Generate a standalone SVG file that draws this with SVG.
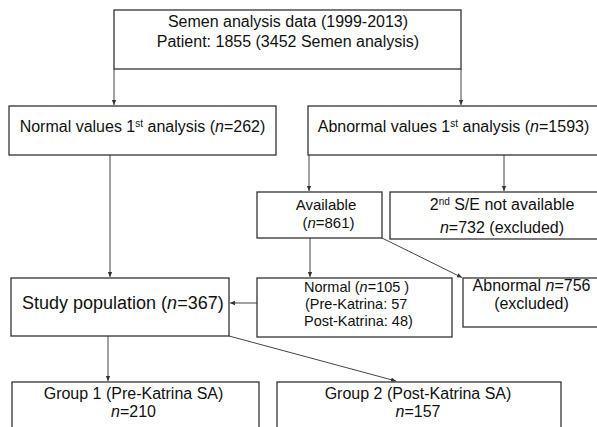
<svg xmlns="http://www.w3.org/2000/svg" width="597" height="427" viewBox="0 0 597 427">
<style>
.box{fill:#fff;stroke:#333;stroke-width:1.3}
.t{font-family:"Liberation Sans",Arial,sans-serif;font-size:16px;fill:#111}
.s{font-size:15px}
.xs{font-size:14.5px}
.big{font-size:18px}
.c{text-anchor:middle}
.sup{font-size:10px}
.ln{stroke:#444;stroke-width:1;fill:none;marker-end:url(#ah)}
</style>
<defs>
<marker id="ah" markerWidth="6" markerHeight="6" refX="5" refY="3" orient="auto" markerUnits="userSpaceOnUse">
<path d="M0,0.8 L5,3 L0,5.2 Z" fill="#333"/>
</marker>
</defs>
<rect width="597" height="427" fill="#fff"/>
<g id="connectors">
<line class="ln" x1="114" y1="69" x2="114" y2="105"/>
<line class="ln" x1="461" y1="69" x2="461" y2="105"/>
<line class="ln" x1="110" y1="155" x2="110" y2="277"/>
<line class="ln" x1="309" y1="155" x2="309" y2="191"/>
<line class="ln" x1="504" y1="155" x2="504" y2="191"/>
<line class="ln" x1="310" y1="238" x2="310" y2="277"/>
<line class="ln" x1="382" y1="238" x2="462" y2="277.5"/>
<line class="ln" x1="257" y1="303" x2="230" y2="303"/>
<line class="ln" x1="108" y1="336" x2="108" y2="381"/>
<line class="ln" x1="229" y1="336" x2="396" y2="381"/>
</g>
<g id="top">
<rect class="box" x="114" y="10" width="347" height="59"/>
<text class="t c" x="288" y="27">Semen analysis data (1999-2013)</text>
<text class="t c" x="288" y="47">Patient: 1855 (3452 Semen analysis)</text>
</g>
<g id="normalvals">
<rect class="box" x="9" y="106" width="267" height="49"/>
<text class="t c" x="142.5" y="132">Normal values 1<tspan class="sup" dy="-5">st</tspan><tspan dy="5"> analysis (</tspan><tspan font-style="italic">n</tspan>=262)</text>
</g>
<g id="abnvals">
<rect class="box" x="308" y="106" width="300" height="49"/>
<text class="t c" x="453.5" y="132">Abnormal values 1<tspan class="sup" dy="-5">st</tspan><tspan dy="5"> analysis (</tspan><tspan font-style="italic">n</tspan>=1593)</text>
</g>
<g id="available">
<rect class="box" x="257" y="192" width="125" height="46"/>
<text class="t s c" x="326" y="210">Available</text>
<text class="t s c" x="328.5" y="227.5">(<tspan font-style="italic">n</tspan>=861)</text>
</g>
<g id="notavail">
<rect class="box" x="390" y="192" width="220" height="47"/>
<text class="t c" x="502" y="210">2<tspan class="sup" dy="-5">nd</tspan><tspan dy="5"> S/E not available</tspan></text>
<text class="t c" x="502" y="233"><tspan font-style="italic">n</tspan>=732 (excluded)</text>
</g>
<g id="normal105">
<rect class="box" x="257" y="278" width="195" height="59"/>
<text class="t xs" x="304" y="292">Normal (<tspan font-style="italic">n</tspan>=105 )</text>
<text class="t xs" x="305" y="309">(Pre-Katrina: 57</text>
<text class="t xs" x="304" y="326">Post-Katrina: 48)</text>
</g>
<g id="abn756">
<rect class="box" x="463" y="278" width="150" height="49"/>
<text class="t c" x="531.5" y="291">Abnormal <tspan font-style="italic">n</tspan>=756</text>
<text class="t c" x="531.5" y="309">(excluded)</text>
</g>
<g id="study">
<rect class="box" x="11" y="278" width="218" height="58"/>
<text class="t big" x="22" y="309">Study population (<tspan font-style="italic">n</tspan>=367)</text>
</g>
<g id="group1">
<rect class="box" x="12" y="382" width="247" height="60"/>
<text class="t c" x="133.5" y="399">Group 1 (Pre-Katrina SA)</text>
<text class="t c" x="133.5" y="417"><tspan font-style="italic">n</tspan>=210</text>
</g>
<g id="group2">
<rect class="box" x="277" y="382" width="284" height="60"/>
<text class="t c" x="418" y="399">Group 2 (Post-Katrina SA)</text>
<text class="t c" x="418" y="417"><tspan font-style="italic">n</tspan>=157</text>
</g>
</svg>
